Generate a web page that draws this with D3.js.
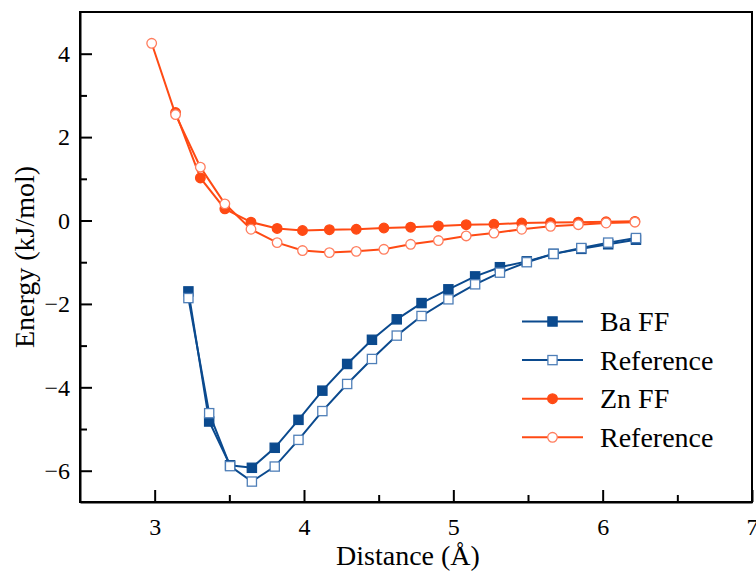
<!DOCTYPE html>
<html>
<head>
<meta charset="utf-8">
<script src="https://cdn.jsdelivr.net/npm/d3@7"></script>
<style>
  html, body { margin: 0; padding: 0; background: #fff; }
  svg { display: block; }
  text { font-family: "Liberation Serif", "Times New Roman", serif; fill: #000; }
</style>
</head>
<body>
<svg id="chart" width="756" height="571"></svg>
<script>
// Interaction energy vs. distance: force field curves against reference data
const baDistance = [3.226, 3.365, 3.505, 3.651, 3.804, 3.963, 4.123, 4.289, 4.455, 4.621, 4.787, 4.967, 5.146, 5.312, 5.492, 5.671, 5.857, 6.037, 6.223];
const baFF       = [-1.70, -4.82, -5.87, -5.93, -5.45, -4.78, -4.08, -3.44, -2.86, -2.37, -1.98, -1.65, -1.34, -1.12, -0.98, -0.80, -0.68, -0.57, -0.46];
const baRef      = [-1.86, -4.62, -5.89, -6.26, -5.90, -5.26, -4.57, -3.92, -3.32, -2.76, -2.29, -1.89, -1.53, -1.25, -1.00, -0.80, -0.66, -0.53, -0.42];

const znDistance = [2.98, 3.14, 3.306, 3.47, 3.645, 3.82, 3.99, 4.17, 4.35, 4.535, 4.714, 4.90, 5.086, 5.272, 5.458, 5.651, 5.837, 6.023, 6.216];
const znFF       = [null, 2.59, 1.02, 0.28, -0.04, -0.19, -0.24, -0.22, -0.21, -0.18, -0.16, -0.13, -0.10, -0.09, -0.06, -0.05, -0.04, -0.03, -0.02];
const znRef      = [4.25, 2.54, 1.28, 0.40, -0.21, -0.53, -0.72, -0.77, -0.74, -0.69, -0.57, -0.48, -0.37, -0.30, -0.21, -0.14, -0.10, -0.06, -0.04];

const xTicks = [3, 4, 5, 6, 7];
const yTicks = [-6, -4, -2, 0, 2, 4];
const legendLabels = ["Ba FF", "Reference", "Zn FF", "Reference"];

const BLUE = "#0b4a8e";
const BLUE_LIGHT = "#4f7fb8";
const ORANGE = "#ff4a14";
const ORANGE_LIGHT = "#ff7d5e";
const SERIF = "'Liberation Serif', 'Times New Roman', serif";

const svg = d3.select("#chart");
const margin = { left: 80, right: 4, top: 12, bottom: 69 };
const W = 756, H = 571;
const x = d3.scaleLinear().domain([2.5, 7]).range([margin.left, W - margin.right]);
const y = d3.scaleLinear().domain([-6.75, 5]).range([H - margin.bottom, margin.top]);

// Frame
svg.append("rect")
  .attr("x", x(2.5)).attr("y", y(5))
  .attr("width", x(7) - x(2.5)).attr("height", y(-6.75) - y(5))
  .attr("fill", "none").attr("stroke", "#000").attr("stroke-width", 2);

// Axes with inward ticks
const xAxis = d3.axisBottom(x).tickValues(xTicks).tickSizeInner(-12).tickSizeOuter(0)
  .tickPadding(16).tickFormat(d3.format("d"));
const gx = svg.append("g").attr("transform", `translate(0,${y(-6.75)})`).call(xAxis);
gx.attr("font-family", null);
gx.select(".domain").attr("stroke-width", 2);
gx.selectAll(".tick line").attr("stroke-width", 2);
gx.selectAll(".tick text").attr("font-size", 24).style("font-family", SERIF);

const xMinor = d3.axisBottom(x).tickValues([3.5, 4.5, 5.5, 6.5]).tickSizeInner(-7).tickSizeOuter(0).tickFormat("");
const gxm = svg.append("g").attr("transform", `translate(0,${y(-6.75)})`).call(xMinor);
gxm.select(".domain").remove();
gxm.selectAll(".tick line").attr("stroke-width", 2);

const fmtMinus = d => (d < 0 ? "\u2212" + Math.abs(d) : String(d));
const yAxis = d3.axisLeft(y).tickValues(yTicks).tickSizeInner(-12).tickSizeOuter(0)
  .tickPadding(10).tickFormat(fmtMinus);
const gy = svg.append("g").attr("transform", `translate(${x(2.5)},0)`).call(yAxis);
gy.attr("font-family", null);
gy.select(".domain").attr("stroke-width", 2);
gy.selectAll(".tick line").attr("stroke-width", 2);
gy.selectAll(".tick text").attr("font-size", 24).style("font-family", SERIF);

const yMinor = d3.axisLeft(y).tickValues([-5, -3, -1, 1, 3]).tickSizeInner(-7).tickSizeOuter(0).tickFormat("");
const gym = svg.append("g").attr("transform", `translate(${x(2.5)},0)`).call(yMinor);
gym.select(".domain").remove();
gym.selectAll(".tick line").attr("stroke-width", 2);

// Axis titles
svg.append("text")
  .attr("x", 408).attr("y", 565)
  .attr("text-anchor", "middle").attr("font-size", 28).style("font-family", SERIF)
  .text("Distance (\u00C5)");
svg.append("text")
  .attr("transform", `translate(34,${(y(5) + y(-6.75)) / 2}) rotate(-90)`)
  .attr("text-anchor", "middle").attr("font-size", 28).style("font-family", SERIF)
  .text("Energy (kJ/mol)");

// Series, drawn in legend order so open markers sit on top
const series = [
  { xs: baDistance, ys: baFF,  line: BLUE,   shape: "square", fill: BLUE,   stroke: BLUE },
  { xs: baDistance, ys: baRef, line: BLUE,   shape: "square", fill: "#fff", stroke: BLUE_LIGHT },
  { xs: znDistance, ys: znFF,  line: ORANGE, shape: "circle", fill: ORANGE, stroke: ORANGE },
  { xs: znDistance, ys: znRef, line: ORANGE, shape: "circle", fill: "#fff", stroke: ORANGE_LIGHT }
];

const lineGen = d3.line().x(d => x(d[0])).y(d => y(d[1]));

function drawMarker(g, shape, cx, cy, fill, stroke) {
  if (shape === "square") {
    g.append("rect").attr("x", cx - 4.6).attr("y", cy - 4.6).attr("width", 9.2).attr("height", 9.2)
      .attr("fill", fill).attr("stroke", stroke).attr("stroke-width", 1.3);
  } else {
    g.append("circle").attr("cx", cx).attr("cy", cy).attr("r", 4.8)
      .attr("fill", fill).attr("stroke", stroke).attr("stroke-width", 1.3);
  }
}

const plot = svg.append("g");
series.forEach(s => {
  const pts = s.xs.map((v, i) => [v, s.ys[i]]).filter(p => p[1] != null);
  const g = plot.append("g");
  g.append("path").datum(pts).attr("d", lineGen)
    .attr("fill", "none").attr("stroke", s.line).attr("stroke-width", 2);
  pts.forEach(p => drawMarker(g, s.shape, x(p[0]), y(p[1]), s.fill, s.stroke));
});

// Legend
const legendItems = [
  { label: legendLabels[0], line: BLUE,   shape: "square", fill: BLUE,   stroke: BLUE },
  { label: legendLabels[1], line: BLUE,   shape: "square", fill: "#fff", stroke: BLUE_LIGHT },
  { label: legendLabels[2], line: ORANGE, shape: "circle", fill: ORANGE, stroke: ORANGE },
  { label: legendLabels[3], line: ORANGE, shape: "circle", fill: "#fff", stroke: ORANGE_LIGHT }
];
const lg = svg.append("g");
legendItems.forEach((it, i) => {
  const cy = 321.5 + i * 38.6;
  lg.append("line").attr("x1", 522).attr("x2", 583).attr("y1", cy).attr("y2", cy)
    .attr("stroke", it.line).attr("stroke-width", 2);
  drawMarker(lg, it.shape, 552.5, cy, it.fill, it.stroke);
  lg.append("text").attr("x", 600).attr("y", cy + 9.5).attr("font-size", 28)
    .style("font-family", SERIF).text(it.label);
});
</script>
</body>
</html>
